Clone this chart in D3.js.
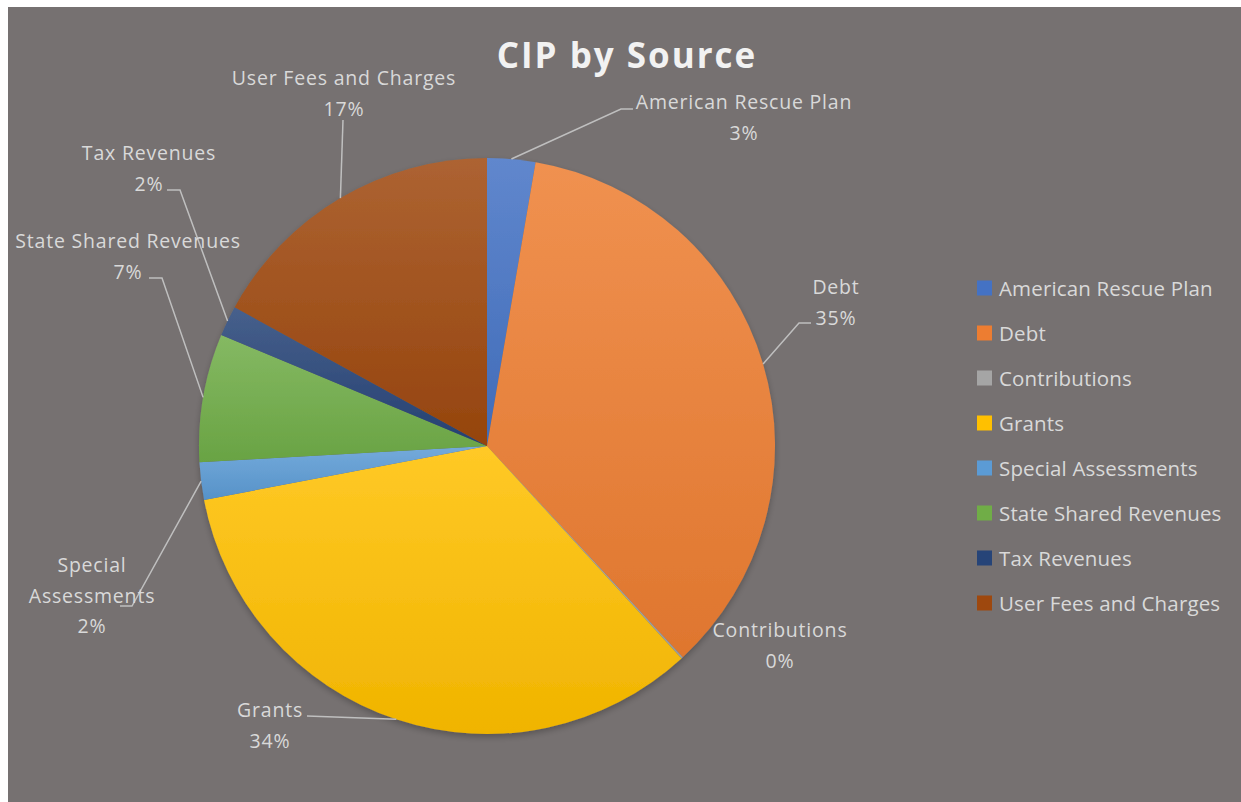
<!DOCTYPE html>
<html>
<head>
<meta charset="utf-8">
<script src="https://cdn.jsdelivr.net/npm/d3@7"></script>
<style>
  html, body { margin: 0; padding: 0; background: #ffffff; }
  svg { display: block; }
  text { font-family: "Open Sans", "Noto Sans", sans-serif; }
</style>
</head>
<body>
<svg id="chart" width="1241" height="802"></svg>
<script>
// ---- Data ----
const categories = [
  "American Rescue Plan", "Debt", "Contributions", "Grants",
  "Special Assessments", "State Shared Revenues", "Tax Revenues", "User Fees and Charges"
];
const values = [2.7, 35.4, 0.1, 33.8, 2.1, 7.2, 1.7, 17.0];
const sliceColors = ["#4472C4", "#ED7D31", "#A5A5A5", "#FFC000", "#5B9BD5", "#70AD47", "#264478", "#9E480E"];
const labelLines = [
  ["American Rescue Plan"], ["Debt"], ["Contributions"], ["Grants"],
  ["Special", "Assessments"], ["State Shared Revenues"], ["Tax Revenues"], ["User Fees and Charges"]
];
const chartTitle = "CIP by Source";

// ---- Layout (manual label placement, relative to page) ----
const W = 1241, H = 802;
const cx = 487, cy = 446, R = 288;
// text anchor center x, first baseline y, leader elbow + end (null = no leader)
const labelLayout = [
  { x: 744, y: 109, pts: [[621, 109], [633, 109]] },
  { x: 836, y: 294, pts: [[799, 323], [811, 323]] },
  { x: 780, y: 637, pts: null },
  { x: 270, y: 717, pts: [[307, 716]] },
  { x: 92,  y: 572, pts: [[132, 606], [120, 606]] },
  { x: 128, y: 248, pts: [[162, 278], [149, 278]] },
  { x: 149, y: 160, pts: [[180, 190], [167, 190]] },
  { x: 344, y: 85,  pts: [[343, 120]] }
];

const svg = d3.select("#chart");

// Background panel
svg.append("rect").attr("x", 8).attr("y", 7).attr("width", W - 8).attr("height", H - 7)
  .attr("fill", "#767171");

// Gradients
const defs = svg.append("defs");
sliceColors.forEach((c, i) => {
  const g = defs.append("linearGradient").attr("id", "grad" + i)
    .attr("x1", 0).attr("y1", 0).attr("x2", 0).attr("y2", 1);
  g.append("stop").attr("offset", "0%").attr("stop-color", d3.interpolateRgb(c, "#ffffff")(0.15));
  g.append("stop").attr("offset", "100%").attr("stop-color", d3.interpolateRgb(c, "#000000")(0.06));
});
const shadow = defs.append("filter").attr("id", "shadow").attr("x", "-10%").attr("y", "-10%")
  .attr("width", "120%").attr("height", "120%");
shadow.append("feDropShadow").attr("dx", 0).attr("dy", 3).attr("stdDeviation", 3)
  .attr("flood-color", "#000").attr("flood-opacity", 0.25);

// Title
svg.append("text").attr("x", 627).attr("y", 68).attr("text-anchor", "middle")
  .attr("font-size", 35).attr("font-weight", 700).attr("letter-spacing", 2)
  .attr("fill", "#F2F2F2").text(chartTitle);

// Pie
const data = categories.map((c, i) => ({ name: c, value: values[i], i }));
const total = d3.sum(values);
const pie = d3.pie().value(d => d.value).sort(null).startAngle(0).endAngle(2 * Math.PI);
const arcs = pie(data);
const arc = d3.arc().innerRadius(0).outerRadius(R);
const edgeArc = d3.arc().innerRadius(R).outerRadius(R);

const g = svg.append("g").attr("transform", `translate(${cx},${cy})`);
g.append("g").attr("filter", "url(#shadow)")
  .selectAll("path").data(arcs).join("path")
  .attr("d", arc)
  .attr("fill", d => `url(#grad${d.data.i})`);

// Leader lines
const lineColor = "#BFBFBF";
arcs.forEach((a, i) => {
  const L = labelLayout[i];
  if (!L.pts) return;
  const c = edgeArc.centroid(a);
  const start = [cx + c[0], cy + c[1]];
  const pts = [start, ...L.pts];
  svg.append("path")
    .attr("d", d3.line()(pts))
    .attr("fill", "none").attr("stroke", lineColor).attr("stroke-width", 1.5);
});

// Data labels
const labelColor = "#D9D9D9";
arcs.forEach((a, i) => {
  const L = labelLayout[i];
  const pct = Math.round(a.data.value / total * 100) + "%";
  const lines = [...labelLines[i], pct];
  const t = svg.append("text").attr("text-anchor", "middle")
    .attr("font-size", 19.5).attr("letter-spacing", 0.8).attr("fill", labelColor);
  lines.forEach((ln, k) => {
    t.append("tspan").attr("x", L.x).attr("y", L.y + k * 30.5).text(ln);
  });
});

// Legend
const legend = svg.append("g").attr("transform", "translate(977,288)");
categories.forEach((c, i) => {
  const row = legend.append("g").attr("transform", `translate(0,${i * 45})`);
  row.append("rect").attr("x", 0).attr("y", -7.5).attr("width", 15).attr("height", 15)
    .attr("fill", sliceColors[i]);
  row.append("text").attr("x", 22).attr("y", 7.5)
    .attr("font-size", 20.5).attr("letter-spacing", 0.15).attr("fill", labelColor).text(c);
});
</script>
</body>
</html>
